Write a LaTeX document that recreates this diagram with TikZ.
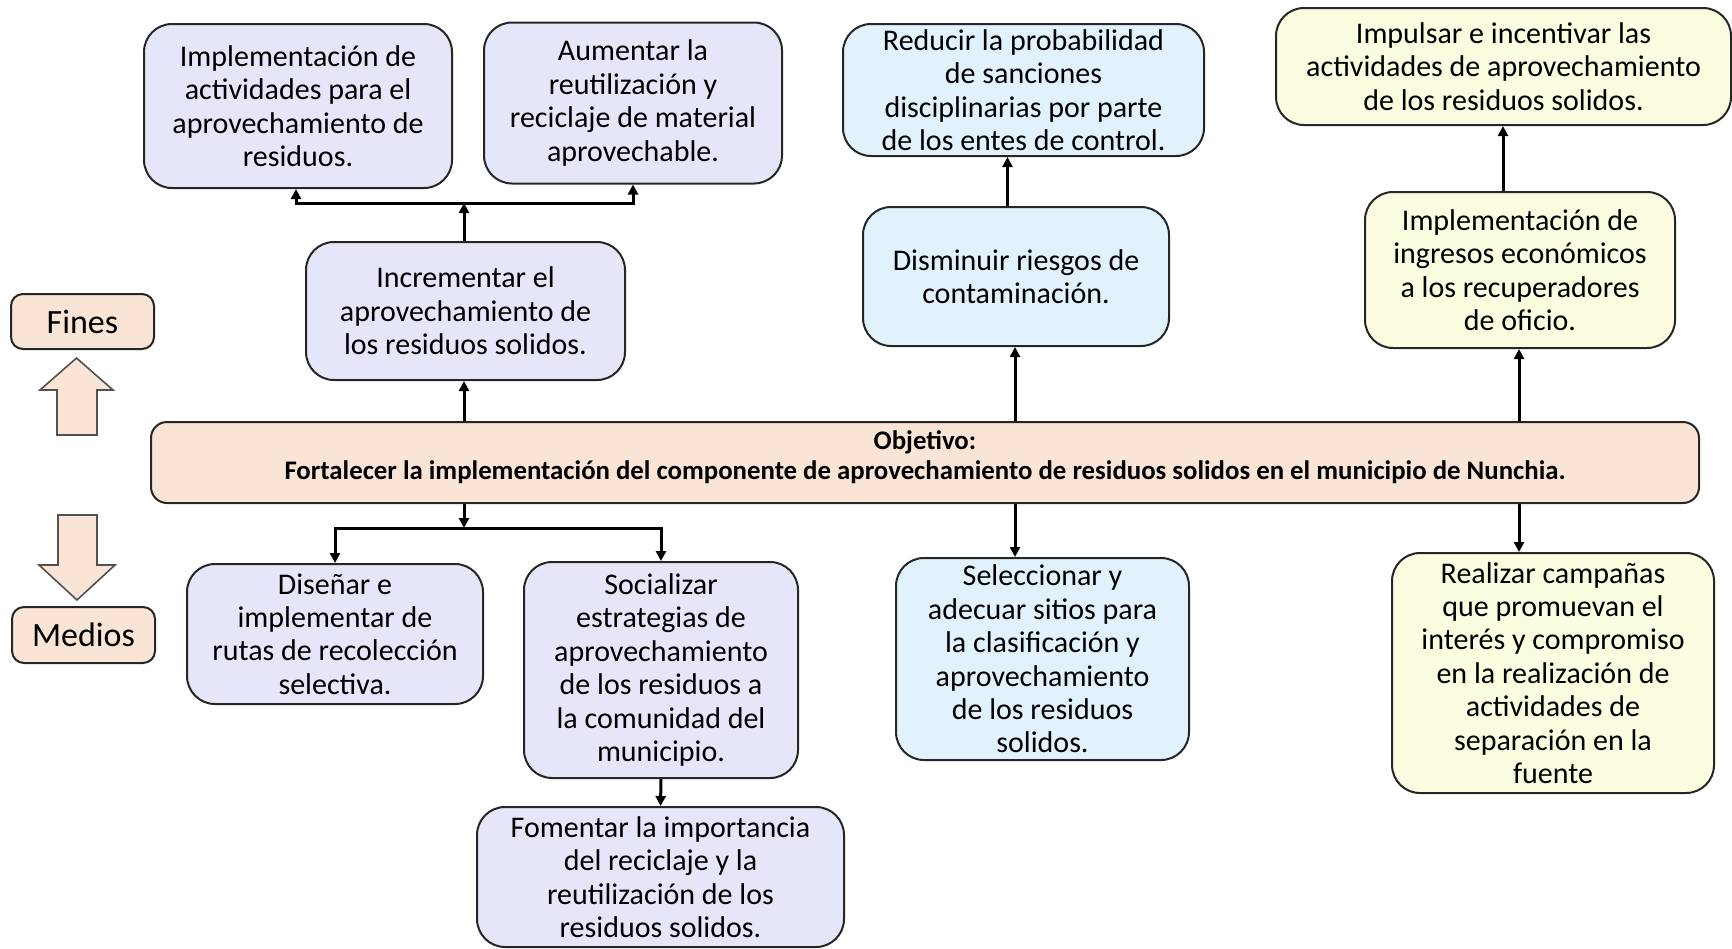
\documentclass[tikz,border=0pt]{standalone}
\usepackage{fontspec}
\setmainfont{Carlito}
\usetikzlibrary{arrows.meta}
\definecolor{purp}{HTML}{E6E6FA}
\definecolor{lblue}{HTML}{E1F2FD}
\definecolor{lyel}{HTML}{FCFCE0}
\definecolor{peach}{HTML}{FAE4D6}
\definecolor{edge}{HTML}{262626}
\begin{document}
\begin{tikzpicture}[x=0.5pt,y=-0.5pt,
  box/.style={draw=edge, line width=1pt, rounded corners=14pt, align=center, inner sep=0pt,
    font=\fontsize{15}{16.7}\selectfont},
  pbox/.style={box, fill=purp},
  bbox/.style={box, fill=lblue},
  ybox/.style={box, fill=lyel},
  tagbox/.style={draw=edge, line width=1pt, rounded corners=6pt, fill=peach, inner sep=0pt,
    font=\fontsize{17}{19}\selectfont},
  conn/.style={line width=1.5pt, -{Triangle[length=5pt,width=5pt]}},
  bigarrow/.style={draw=edge!80, line width=0.8pt, fill=peach}]
\useasboundingbox (0,0) rectangle (1732,948);

% side labels
\node[tagbox, minimum width=71.5pt, minimum height=27.5pt] (fines) at (82.5,321.5) {Fines};
\node[tagbox, minimum width=71.5pt, minimum height=28pt] (medios) at (83.5,635) {Medios};
\draw[bigarrow] (57,435) -- (57,390) -- (40,390) -- (76.5,358) -- (113,390) -- (97,390) -- (97,435) -- cycle;
\draw[bigarrow] (58,515) -- (97,515) -- (97,565) -- (115,565) -- (77,600) -- (39,565) -- (58,565) -- cycle;

% objective
\node[draw=edge, line width=1pt, rounded corners=8pt, fill=peach, inner sep=0pt,
  minimum width=774pt, minimum height=40.5pt] (obj) at (925,462.5) {};
\node[align=center, inner sep=0pt, font=\bfseries\fontsize{13.4}{15}\selectfont]
  (objtxt) at (925,457.5) {Objetivo:\\Fortalecer la implementación del componente de aprovechamiento de residuos solidos en el municipio de Nunchia.};

% fines
\node[pbox, minimum width=154pt, minimum height=82pt] (a1) at (298,106)
  {Implementación de\\actividades para el\\aprovechamiento de\\residuos.};
\node[pbox, minimum width=149pt, minimum height=80.5pt] (a2) at (633,103)
  {Aumentar la\\reutilización y\\reciclaje de material\\aprovechable.};
\node[pbox, minimum width=159.5pt, minimum height=69pt] (b) at (465.5,311)
  {Incrementar el\\aprovechamiento de\\los residuos solidos.};
\node[bbox, minimum width=180.5pt, minimum height=66pt] (c1) at (1023.5,90)
  {Reducir la probabilidad\\de sanciones\\disciplinarias por parte\\de los entes de control.};
\node[bbox, minimum width=153pt, minimum height=69.5pt] (c2) at (1016,276.5)
  {Disminuir riesgos de\\contaminación.};
\node[ybox, minimum width=227.5pt, minimum height=58.5pt] (d1) at (1503.5,66.5)
  {Impulsar e incentivar las\\actividades de aprovechamiento\\de los residuos solidos.};
\node[ybox, minimum width=155pt, minimum height=78pt] (d2) at (1520,270)
  {Implementación de\\ingresos económicos\\a los recuperadores\\de oficio.};

% medios
\node[pbox, minimum width=148pt, minimum height=70pt] (e1) at (335,634)
  {Diseñar e\\implementar de\\rutas de recolección\\selectiva.};
\node[pbox, minimum width=137pt, minimum height=108pt] (e2) at (661,670)
  {Socializar\\estrategias de\\aprovechamiento\\de los residuos a\\la comunidad del\\municipio.};
\node[pbox, minimum width=183.5pt, minimum height=70pt] (e3) at (660.5,877)
  {Fomentar la importancia\\del reciclaje y la\\reutilización de los\\residuos solidos.};
\node[bbox, minimum width=146.5pt, minimum height=101pt] (f) at (1042.5,659)
  {Seleccionar y\\adecuar sitios para\\la clasificación y\\aprovechamiento\\de los residuos\\solidos.};
\node[ybox, minimum width=161pt, minimum height=120pt] (g) at (1553,673)
  {Realizar campañas\\que promuevan el\\interés y compromiso\\en la realización de\\actividades de\\separación en la\\fuente};

% junctions
\coordinate (jt) at (464,203);
\coordinate (jb) at (464,528);
\coordinate (xc) at (1015,0);
\coordinate (xd) at (1519,0);

% upper connectors
\draw[conn] (obj.north -| jt) -- (b.south -| jt);
\draw[conn] (b.north -| jt) -- (jt);
\draw[conn] (jt) -| (a1.south -| 296,0);
\draw[conn] (jt) -| (a2.south);
\draw[conn] (obj.north -| xc) -- (c2.south -| xc);
\draw[conn] ([xshift=-4.25pt]c2.north) -- ([xshift=-4.25pt]c2.north |- c1.south);
\draw[conn] (obj.north -| xd) -- (d2.south -| xd);
\draw[conn] ([xshift=-8.5pt]d2.north) -- ([xshift=-8.5pt]d2.north |- d1.south);

% lower connectors
\draw[conn] (obj.south -| jb) -- (jb);
\draw[conn] (jb) -| (e1.north);
\draw[conn] (jb) -| (e2.north);
\draw[conn] (e2.south) -- (e3.north);
\draw[conn] (obj.south -| xc) -- (f.north -| xc);
\draw[conn] (obj.south -| xd) -- (g.north -| xd);
\end{tikzpicture}
\end{document}
